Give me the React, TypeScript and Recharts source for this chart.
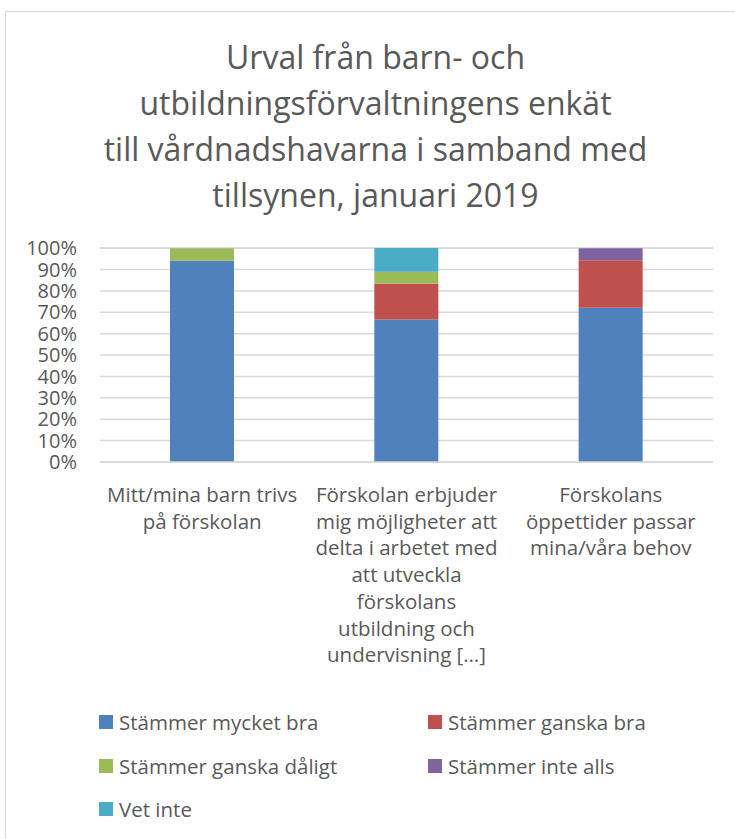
import React from "react";
import { BarChart, Bar, XAxis, YAxis, CartesianGrid } from "recharts";

const categories = [
  "Mitt/mina barn trivs på förskolan",
  "Förskolan erbjuder mig möjligheter att delta i arbetet med att utveckla förskolans utbildning och undervisning […]",
  "Förskolans öppettider passar mina/våra behov",
];
const categoryLines = [
  ["Mitt/mina barn trivs", "på förskolan"],
  ["Förskolan erbjuder", "mig möjligheter att", "delta i arbetet med", "att utveckla", "förskolans", "utbildning och", "undervisning […]"],
  ["Förskolans", "öppettider passar", "mina/våra behov"],
];
const mycketBra = [94.1, 66.7, 72.2];
const ganskaBra = [0, 16.7, 22.2];
const ganskaDaligt = [5.9, 5.6, 0];
const inteAlls = [0, 0, 5.6];
const vetInte = [0, 11.1, 0];
const yTicks = [0, 10, 20, 30, 40, 50, 60, 70, 80, 90, 100];
const seriesNames = ["Stämmer mycket bra", "Stämmer ganska bra", "Stämmer ganska dåligt", "Stämmer inte alls", "Vet inte"];
const seriesKeys = ["mycketBra", "ganskaBra", "ganskaDaligt", "inteAlls", "vetInte"];
const seriesColors = ["#4F81BD", "#C0504D", "#9BBB59", "#8064A2", "#4BACC6"];
const titleLines = [
  "Urval från barn- och",
  "utbildningsförvaltningens enkät",
  "till vårdnadshavarna i samband med",
  "tillsynen, januari 2019",
];

const data = categories.map((c, i) => ({
  name: c,
  mycketBra: mycketBra[i],
  ganskaBra: ganskaBra[i],
  ganskaDaligt: ganskaDaligt[i],
  inteAlls: inteAlls[i],
  vetInte: vetInte[i],
}));

const FONT = "'Open Sans', 'Noto Sans', sans-serif";
const TEXT = "#595959";

const CatTick = (props: any) => {
  const { x, y, payload } = props;
  const lines = categoryLines[payload.index] || [];
  return (
    <text x={x} y={y} textAnchor="middle" fill={TEXT} fontSize={20.5} fontFamily={FONT}>
      {lines.map((l, i) => (
        <tspan key={i} x={x} y={y + 40 + i * 26.7}>
          {l}
        </tspan>
      ))}
    </text>
  );
};

export default function App() {
  return (
    <div style={{ position: "absolute", left: 0, top: 0, width: 735, height: 839, overflow: "hidden", background: "#fff", fontFamily: FONT }}>
      <div style={{ position: "absolute", left: 5, top: 11, width: 760, height: 860, border: "1.5px solid #D9D9D9", boxSizing: "border-box" }} />
      <div style={{ position: "absolute", left: 0, top: 34, width: 751, textAlign: "center", color: TEXT, fontSize: 32, lineHeight: "46px" }}>
        {titleLines.map((t, i) => (
          <div key={i}>{t}</div>
        ))}
      </div>
      <div style={{ position: "absolute", left: 0, top: 0 }}>
        <BarChart width={735} height={839} data={data} margin={{ top: 248, right: 22, bottom: 347, left: 40 }}>
          <CartesianGrid vertical={false} stroke="#D9D9D9" strokeWidth={1.5} />
          <XAxis
            dataKey="name"
            tick={<CatTick />}
            tickLine={false}
            tickSize={0}
            tickMargin={0}
            axisLine={{ stroke: "#D9D9D9", strokeWidth: 1.5 }}
            interval={0}
            height={30}
          />
          <YAxis
            width={60}
            domain={[0, 100]}
            ticks={yTicks}
            tickFormatter={(v: number) => `${v}%`}
            tickLine={false}
            axisLine={false}
            tickSize={0}
            tickMargin={23}
            tick={{ fill: TEXT, fontSize: 20, fontFamily: FONT }}
            interval={0}
          />
          {seriesKeys.map((k, i) => (
            <Bar key={k} dataKey={k} name={seriesNames[i]} stackId="a" fill={seriesColors[i]} barSize={64} isAnimationActive={false} />
          ))}
        </BarChart>
      </div>
      {seriesNames.map((n, i) => {
        const col = i % 2;
        const row = Math.floor(i / 2);
        return (
          <div
            key={n}
            style={{
              position: "absolute",
              left: col === 0 ? 99 : 428,
              top: 707 + row * 43.5,
              height: 30,
              display: "flex",
              alignItems: "center",
              color: TEXT,
              fontSize: 20.5,
              whiteSpace: "nowrap",
            }}
          >
            <span style={{ display: "inline-block", width: 14, height: 14, background: seriesColors[i], marginRight: 6, flex: "none" }} />
            <span>{n}</span>
          </div>
        );
      })}
    </div>
  );
}
